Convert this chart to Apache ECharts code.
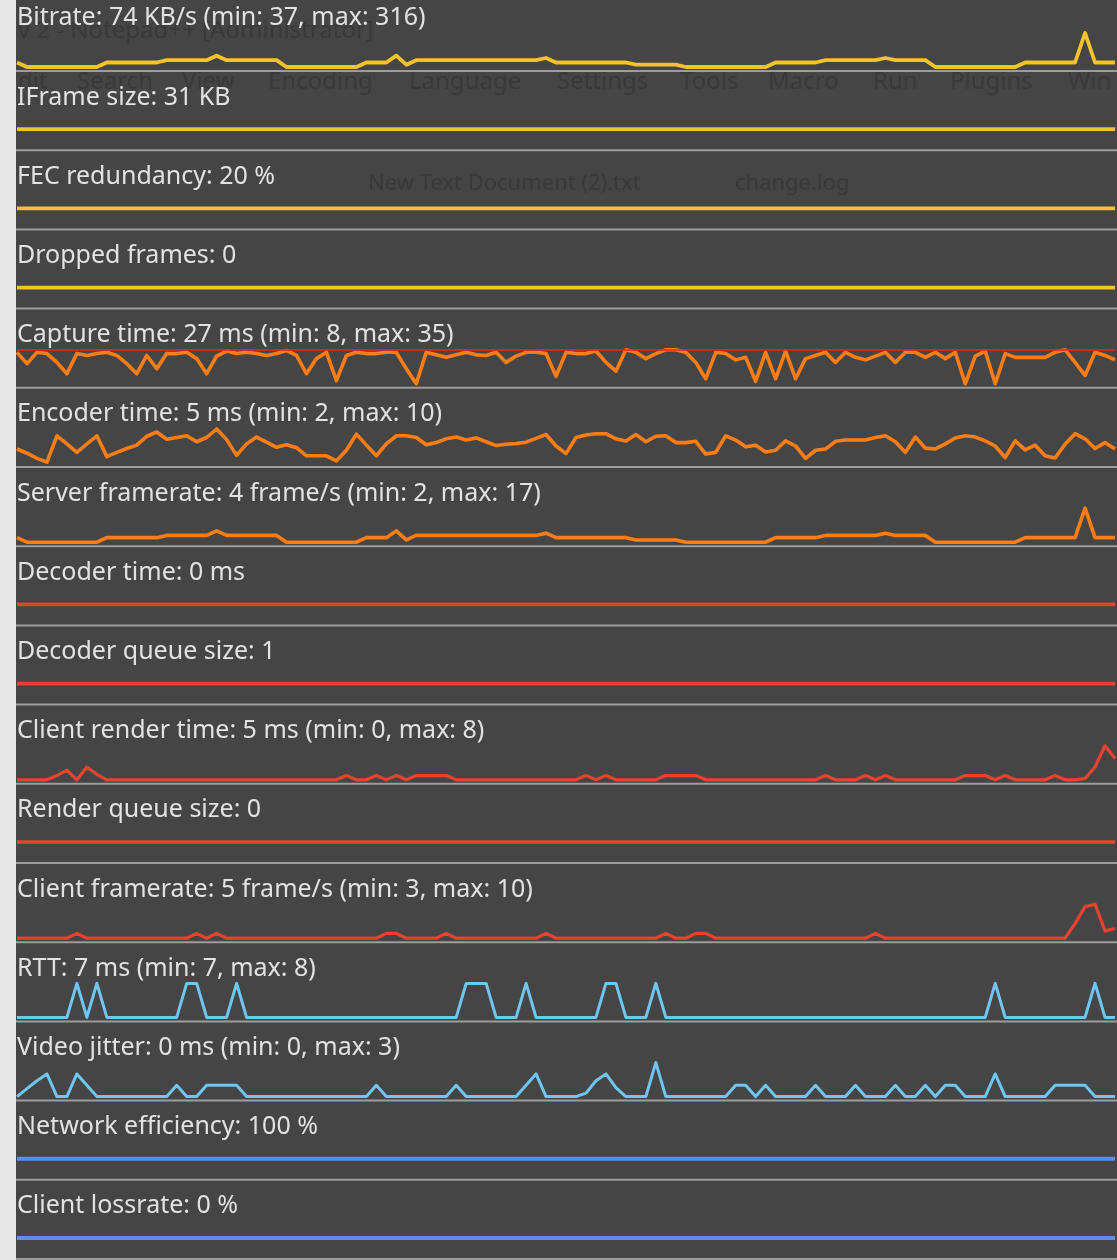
<!DOCTYPE html>
<html><head><meta charset="utf-8">
<script src="https://cdn.jsdelivr.net/npm/echarts@6/dist/echarts.min.js"></script>
<style>html,body{margin:0;padding:0;background:#e8e8e8;overflow:hidden}#c{width:1117px;height:1260px}</style>
</head><body><div id="c"></div>
<script>
// ---------------- data (one sample per ~10 px, 111 samples) ----------------
const titles = [
  "Bitrate: 74 KB/s (min: 37, max: 316)",
  "IFrame size: 31 KB",
  "FEC redundancy: 20 %",
  "Dropped frames: 0",
  "Capture time: 27 ms (min: 8, max: 35)",
  "Encoder time: 5 ms (min: 2, max: 10)",
  "Server framerate: 4 frame/s (min: 2, max: 17)",
  "Decoder time: 0 ms",
  "Decoder queue size: 1",
  "Client render time: 5 ms (min: 0, max: 8)",
  "Render queue size: 0",
  "Client framerate: 5 frame/s (min: 3, max: 10)",
  "RTT: 7 ms (min: 7, max: 8)",
  "Video jitter: 0 ms (min: 0, max: 3)",
  "Network efficiency: 100 %",
  "Client lossrate: 0 %"
];
const axisMin = [37, 30, 19, -1, 8, 2, 2, -1, 0, 0, -1, 3, 7, 0, 99, -1];
const axisMax = [316, 32, 21, 1, 35, 10, 17, 1, 2, 8, 1, 10, 8, 3, 101, 1];
const captureLimit = 35;

const bitrate = [74, 37,37,37,37,37,37,37,37, 74,74,74,74,74,74, 93,93,93,93,93, 130, 93,93,93,93,93,93,
  37,37,37,37,37,37,37,37, 74,74,74, 130, 56, 93,93,93,93,93,93,93,93,93,93,93,93,93, 111,
  74,74,74,74,74,74,74,74, 56,56,56,56,56, 37,37,37,37,37,37,37,37,37, 74,74,74,74,74,
  93,93,93,93,93,93, 111, 93,93,93,93, 37,37,37,37,37,37,37,37,37, 74,74,74,74,74,74, 316, 74,74,74];
const iframeSize = [31,31,31,31,31,31,31,31,31,31, 31,31,31,31,31,31,31,31,31,31, 31,31,31,31,31,31,31,31,31,31,
  31,31,31,31,31,31,31,31,31,31, 31,31,31,31,31,31,31,31,31,31, 31,31,31,31,31,31,31,31,31,31,
  31,31,31,31,31,31,31,31,31,31, 31,31,31,31,31,31,31,31,31,31, 31,31,31,31,31,31,31,31,31,31,
  31,31,31,31,31,31,31,31,31,31, 31,31,31,31,31,31,31,31,31,31, 31];
const fecRedundancy = [20,20,20,20,20,20,20,20,20,20, 20,20,20,20,20,20,20,20,20,20, 20,20,20,20,20,20,20,20,20,20,
  20,20,20,20,20,20,20,20,20,20, 20,20,20,20,20,20,20,20,20,20, 20,20,20,20,20,20,20,20,20,20,
  20,20,20,20,20,20,20,20,20,20, 20,20,20,20,20,20,20,20,20,20, 20,20,20,20,20,20,20,20,20,20,
  20,20,20,20,20,20,20,20,20,20, 20,20,20,20,20,20,20,20,20,20, 20];
const droppedFrames = [0,0,0,0,0,0,0,0,0,0, 0,0,0,0,0,0,0,0,0,0, 0,0,0,0,0,0,0,0,0,0, 0,0,0,0,0,0,0,0,0,0,
  0,0,0,0,0,0,0,0,0,0, 0,0,0,0,0,0,0,0,0,0, 0,0,0,0,0,0,0,0,0,0, 0,0,0,0,0,0,0,0,0,0,
  0,0,0,0,0,0,0,0,0,0, 0,0,0,0,0,0,0,0,0,0, 0,0,0,0,0,0,0,0,0,0, 0];
const captureTime = [33,24,33,32,25,16,32,30.5,32,33, 30.5,24,16,30.5,20,32,32,33,28,16,
  30,34,32,33,32,30.5,32,34.5,30.5,16, 28,33,10.6,30.5,33,32,32,33,33,20,
  8,33,31,29,31,33,31,30.5,33,25, 30,33,33,32,14,33,32,32,34,25,
  18,35,33,28,32,35,35,33,25,12, 33,32,27,29,10,33,12,34,12,28,
  30.5,33,25,33,29,27,30,33,25,33, 33,29,33,28,33,8,30,34,8,32,
  29,29,29,29,33,35,25,14.6,33,30.5, 27];
const encoderTime = [5.3,4.3,3.1,2.2,8.4,6.5,4.5,6.5,8.4,3.5, 4.5,5.4,6.2,8.3,9.3,7.6,8,8.4,7,8,
  10,7.5,3.8,6.5,8.1,6.9,5.7,6.3,5.6,3.7, 3.7,3.7,2.5,5,8.8,6.2,3.7,6.5,8.4,8.4,
  8,6.3,6.8,7.7,8.1,7.4,7.9,7,6.1,6.4, 6.6,6.9,7.8,8.7,6,4.2,8,8.6,8.9,8.9,
  7.7,7.2,8.7,7,8.3,8.4,6.8,6.8,7.1,4.1, 4.5,8.4,7.4,5.8,6.2,4.6,5,7.2,6,3.1,
  5,5.3,7.1,7.4,7.4,7.4,8,8.4,7,4.5, 8.1,5.5,5.3,6.5,7.9,8.4,8.1,7.2,6,3.3,
  7.2,5.1,6.2,3.7,3.2,6.4,8.9,7.7,5.4,6.8, 5.3];
const serverFramerate = [4, 2,2,2,2,2,2,2,2, 4,4,4,4,4,4, 5,5,5,5,5, 7, 5,5,5,5,5,5, 2,2,2,2,2,2,2,2,
  4,4,4, 7, 3, 5,5,5,5,5,5,5,5,5,5,5,5,5, 6, 4,4,4,4,4,4,4,4, 3,3,3,3,3, 2,2,2,2,2,2,2,2,2,
  4,4,4,4,4, 5,5,5,5,5,5, 6, 5,5,5,5, 2,2,2,2,2,2,2,2,2, 4,4,4,4,4,4, 17, 4,4,4];
const decoderTime = [0,0,0,0,0,0,0,0,0,0, 0,0,0,0,0,0,0,0,0,0, 0,0,0,0,0,0,0,0,0,0, 0,0,0,0,0,0,0,0,0,0,
  0,0,0,0,0,0,0,0,0,0, 0,0,0,0,0,0,0,0,0,0, 0,0,0,0,0,0,0,0,0,0, 0,0,0,0,0,0,0,0,0,0,
  0,0,0,0,0,0,0,0,0,0, 0,0,0,0,0,0,0,0,0,0, 0,0,0,0,0,0,0,0,0,0, 0];
const decoderQueue = [1,1,1,1,1,1,1,1,1,1, 1,1,1,1,1,1,1,1,1,1, 1,1,1,1,1,1,1,1,1,1, 1,1,1,1,1,1,1,1,1,1,
  1,1,1,1,1,1,1,1,1,1, 1,1,1,1,1,1,1,1,1,1, 1,1,1,1,1,1,1,1,1,1, 1,1,1,1,1,1,1,1,1,1,
  1,1,1,1,1,1,1,1,1,1, 1,1,1,1,1,1,1,1,1,1, 1,1,1,1,1,1,1,1,1,1, 1];
const clientRender = [0,0,0,0,1,2.3,0,3,1.3,0, 0,0,0,0,0,0,0,0,0,0, 0,0,0,0,0,0,0,0,0,0,
  0,0,0,1,0,0,1,0,1,0, 1,1,1,1,0,0,0,0,0,0, 0,0,0,0,0,0,0,1,0,1,
  0,0,0,0,0,1,1,1,1,0, 0,0,0,0,0,0,0,0,0,0, 0,1,0,0,0,1,0,1,0,0,
  0,0,0,0,0,1,1,1,0,1, 0,0,0,0,1,0,0,0.3,3,8, 5];
const renderQueue = [0,0,0,0,0,0,0,0,0,0, 0,0,0,0,0,0,0,0,0,0, 0,0,0,0,0,0,0,0,0,0, 0,0,0,0,0,0,0,0,0,0,
  0,0,0,0,0,0,0,0,0,0, 0,0,0,0,0,0,0,0,0,0, 0,0,0,0,0,0,0,0,0,0, 0,0,0,0,0,0,0,0,0,0,
  0,0,0,0,0,0,0,0,0,0, 0,0,0,0,0,0,0,0,0,0, 0,0,0,0,0,0,0,0,0,0, 0];
const clientFramerate = [3,3,3,3,3,3,4,3,3,3, 3,3,3,3,3,3,3,3,4,3, 4,3,3,3,3,3,3,3,3,3,
  3,3,3,3,3,3,3,4,4,3, 3,3,3,4,3,3,3,3,3,3, 3,3,3,4,3,3,3,3,3,3,
  3,3,3,3,3,4,3,3,4,4, 3,3,3,3,3,3,3,3,3,3, 3,3,3,3,3,3,4,3,3,3,
  3,3,3,3,3,3,3,3,3,3, 3,3,3,3,3,3,6,9.5,10,4.5, 5];
const rtt = [7,7,7,7,7,7,8,7,8,7, 7,7,7,7,7,7,7,8,8,7, 7,7,8,7,7,7,7,7,7,7,
  7,7,7,7,7,7,7,7,7,7, 7,7,7,7,7,8,8,8,7,7, 7,8,7,7,7,7,7,7,7,8,
  8,7,7,7,8,7,7,7,7,7, 7,7,7,7,7,7,7,7,7,7, 7,7,7,7,7,7,7,7,7,7,
  7,7,7,7,7,7,7,7,8,7, 7,7,7,7,7,7,7,7,8,7, 7];
const videoJitter = [0,0.7,1.4,2,0,0,2,1,0,0, 0,0,0,0,0,0,1,0,0,1, 1,1,1,0,0,0,0,0,0,0,
  0,0,0,0,0,0,1,0,0,0, 0,0,0,0,1,0,0,0,0,0, 0,1,2,0,0,0,0,0.3,1.4,2,
  0.8,0,0,0,3,0,0,0,0,0, 0,0,1,1,0,1,0,0,0,0, 1,0,0,0,1,0,0,0,1,0,
  0,1,0,1,1,0,0,0,2,0, 0,0,0,0,1,1,1,1,0,0, 0];
const networkEfficiency = [100,100,100,100,100,100,100,100,100,100, 100,100,100,100,100,100,100,100,100,100,
  100,100,100,100,100,100,100,100,100,100, 100,100,100,100,100,100,100,100,100,100,
  100,100,100,100,100,100,100,100,100,100, 100,100,100,100,100,100,100,100,100,100,
  100,100,100,100,100,100,100,100,100,100, 100,100,100,100,100,100,100,100,100,100,
  100,100,100,100,100,100,100,100,100,100, 100,100,100,100,100,100,100,100,100,100,
  100,100,100,100,100,100,100,100,100,100, 100];
const clientLossrate = [0,0,0,0,0,0,0,0,0,0, 0,0,0,0,0,0,0,0,0,0, 0,0,0,0,0,0,0,0,0,0, 0,0,0,0,0,0,0,0,0,0,
  0,0,0,0,0,0,0,0,0,0, 0,0,0,0,0,0,0,0,0,0, 0,0,0,0,0,0,0,0,0,0, 0,0,0,0,0,0,0,0,0,0,
  0,0,0,0,0,0,0,0,0,0, 0,0,0,0,0,0,0,0,0,0, 0,0,0,0,0,0,0,0,0,0, 0];

const seriesData = [bitrate, iframeSize, fecRedundancy, droppedFrames, captureTime, encoderTime,
  serverFramerate, decoderTime, decoderQueue, clientRender, renderQueue, clientFramerate,
  rtt, videoJitter, networkEfficiency, clientLossrate];

// faint background text (screenshot behind the overlay)
const ghostWords = ["v 2 - Notepad++ [Administrator]", "dit", "Search", "View", "Encoding", "Language",
  "Settings", "Tools", "Macro", "Run", "Plugins", "Win", "New Text Document (2).txt", "change.log"];

// ---------------- styles / layout ----------------
const YEL = '#f3c22c', ORA = '#fb7d14', RED = '#e6432f', LBL = '#6fc6f0', BLU = '#5b8fe6';
const colors = [YEL, YEL, YEL, YEL, ORA, ORA, ORA, RED, RED, RED, RED, RED, LBL, LBL, BLU, BLU];
const widths = [3.8, 3.8, 3.8, 3.8, 3.6, 3.6, 3.6, 3.6, 3.6, 3.2, 3.6, 3.2, 3, 3, 4, 4];
const ghostX = [18, 18, 77, 182, 268, 409, 557, 680, 768, 873, 950, 1068, 368, 735];
const ghostY = [31, 82, 82, 82, 82, 82, 82, 82, 82, 82, 82, 82, 184, 184];
const ghostSize = [24, 24, 24, 24, 24, 24, 24, 24, 24, 24, 24, 24, 22, 22];

const PERIOD = 79.2, SEP0 = 71;
const sep = k => SEP0 + PERIOD * k;
const cats = seriesData[0].map((_, i) => i);

const grid = [], xAxis = [], yAxis = [], series = [], title = [], graphic = [];
graphic.push({type: 'rect', z: -20, shape: {x: 16, y: 0, width: 1101, height: 1260}, style: {fill: '#454545'}});
ghostWords.forEach((w, i) => graphic.push({type: 'text', z: -10, x: ghostX[i], y: ghostY[i],
  style: {text: w, fill: '#3a3a3a', font: ghostSize[i] + 'px "Noto Sans"', textVerticalAlign: 'middle'}}));
for (let k = 0; k < 16; k++) {
  const s = sep(k);
  graphic.push({type: 'rect', z: -5, shape: {x: 16, y: s - 1, width: 1101, height: 2}, style: {fill: '#9d9d9d'}});
  grid.push({left: 17, right: 2, top: s - 38, height: 34, show: false});
  xAxis.push({type: 'category', gridIndex: k, data: cats, boundaryGap: false, show: false});
  yAxis.push({type: 'value', gridIndex: k, min: axisMin[k], max: axisMax[k], show: false});
  const ser = {type: 'line', xAxisIndex: k, yAxisIndex: k, data: seriesData[k], symbol: 'none',
    clip: false, animation: false, lineStyle: {color: colors[k], width: widths[k], join: 'round'},
    itemStyle: {color: colors[k]}};
  if (k === 4) {
    ser.markLine = {silent: true, symbol: 'none', animation: false, label: {show: false},
      lineStyle: {color: '#ff1c1c', width: 1.6, type: 'solid'}, data: [{yAxis: captureLimit}]};
  }
  series.push(ser);
  title.push({text: titles[k], left: 17, top: sep(k - 1) + 14, padding: 0,
    textStyle: {color: '#e2e2e2', fontFamily: 'Noto Sans', fontSize: 25, fontWeight: 'normal'}});
}

const chart = echarts.init(document.getElementById('c'), null, {renderer: 'canvas'});
chart.setOption({backgroundColor: '#e8e8e8', animation: false, title, grid, xAxis, yAxis, series, graphic});
</script>
</body></html>
